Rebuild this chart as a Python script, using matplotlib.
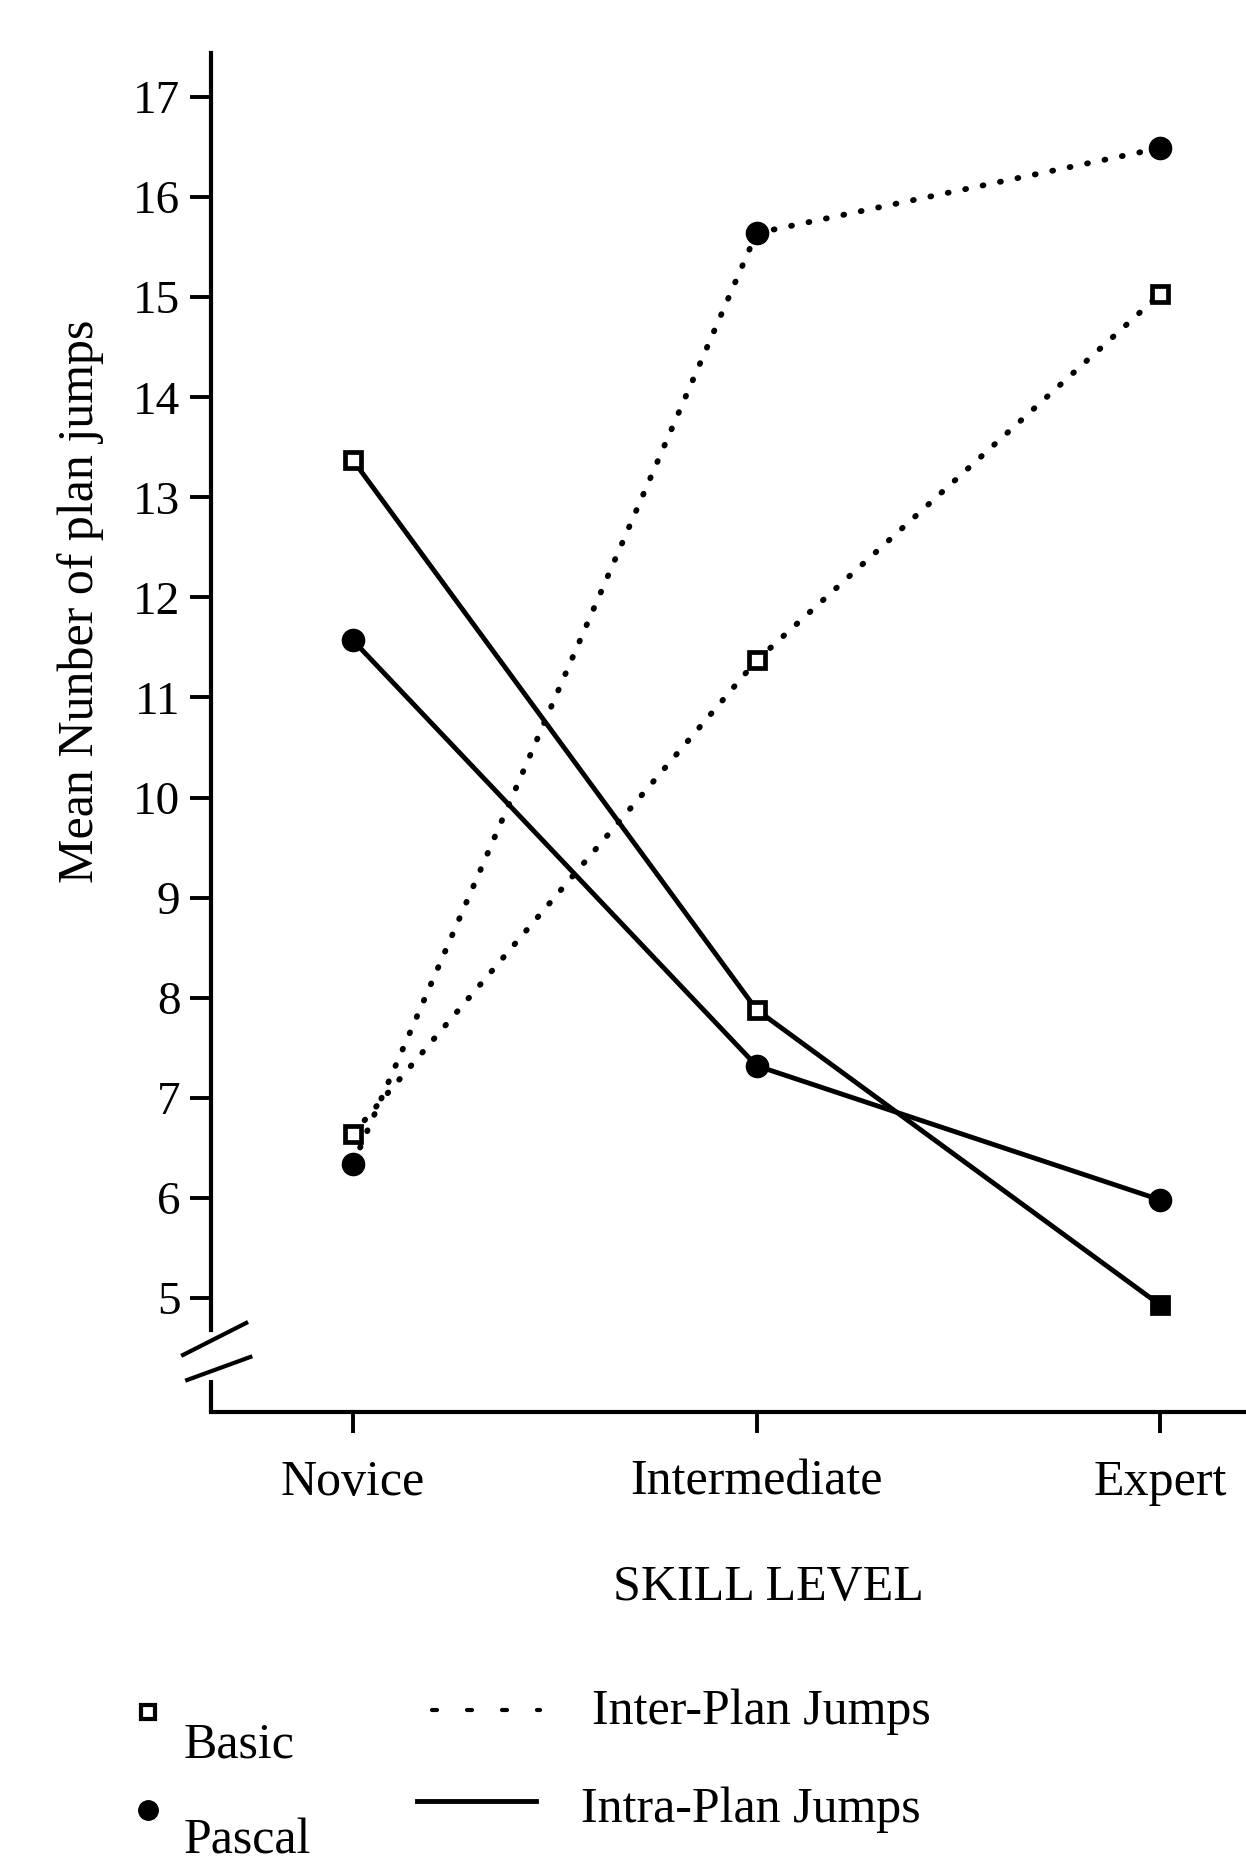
import matplotlib
matplotlib.use("Agg")
import matplotlib.pyplot as plt
from matplotlib.lines import Line2D

skill_levels = ["Novice", "Intermediate", "Expert"]
basic_inter = [6.64, 11.37, 15.03]
pascal_inter = [6.34, 15.64, 16.49]
basic_intra = [13.37, 7.88, 4.93]
pascal_intra = [11.57, 7.32, 5.98]
y_ticks = list(range(5, 18))

plt.rcParams["font.family"] = ["Liberation Serif", "DejaVu Serif"]
plt.rcParams["font.size"] = 36

W, H = 1246, 1862
fig = plt.figure(figsize=(W / 100, H / 100), dpi=100)
ax = fig.add_axes([211 / W, 1 - 1412 / H, 1 - 211 / W, (1412 - 53) / H])

x = list(range(len(skill_levels)))
dot = (0, (0.15, 2.9))
inter_style = dict(color="black", lw=4.2, linestyle=dot, dash_capstyle="round", zorder=3)
intra_style = dict(color="black", lw=3.5, linestyle="-", zorder=3)
square = dict(marker="s", ms=12, mfc="white", mec="black", mew=3.4)
circle = dict(marker="o", ms=16, mfc="black", mec="black", mew=1)

ax.plot(x, basic_inter, **inter_style, **square)
ax.plot(x, pascal_inter, **inter_style, **circle)
ax.plot(x, basic_intra, **intra_style, **square)
ax.plot(x, pascal_intra, **intra_style, **circle)
# the expert square on the intra line is printed solid
ax.plot(x[-1:], basic_intra[-1:], ls="none", marker="s", ms=13, color="black", zorder=4)

ax.set_xlim(-0.352, 2.213)
ax.set_ylim(3.86, 17.44)
ax.set_xticks(x)
ax.set_xticklabels(skill_levels, fontsize=36)
ax.set_yticks(y_ticks)

for side in ("top", "right"):
    ax.spines[side].set_visible(False)
ax.spines["left"].set_linewidth(3)
ax.spines["bottom"].set_linewidth(3)
ax.spines["left"].set_bounds(4.68, 17.44)
ax.tick_params(axis="both", direction="out", length=15, width=2.8)
ax.tick_params(axis="y", pad=7, labelsize=34)
ax.tick_params(axis="x", pad=19)

# axis break on the y axis
yt = ax.get_yaxis_transform()
ax.plot([0, 0], [3.86, 4.18], transform=yt, color="black", lw=3, clip_on=False, solid_capstyle="butt")
ax.plot([-0.027, 0.034], [4.43, 4.75], transform=yt, color="black", lw=3, clip_on=False)
ax.plot([-0.023, 0.038], [4.18, 4.41], transform=yt, color="black", lw=3, clip_on=False)

fig.text(81 / W, 1 - 601 / H, "Mean Nunber of plan jumps", rotation=90,
         ha="center", va="center", fontsize=36)
fig.text(768 / W, 1 - 1600 / H, "SKILL LEVEL", ha="center", va="baseline", fontsize=36)

# legend drawn by hand
fig.add_artist(Line2D([148 / W], [1 - 1712 / H], marker="s", ms=10, mfc="white", mec="black", mew=3))
fig.add_artist(Line2D([148 / W], [1 - 1810 / H], marker="o", ms=14, color="black"))
fig.text(184 / W, 1 - 1757 / H, "Basic", fontsize=36, va="baseline")
fig.text(184 / W, 1 - 1854 / H, "Pascal", fontsize=36, va="baseline")
fig.add_artist(Line2D([432 / W, 540 / W], [1 - 1710 / H] * 2, color="black", lw=3,
                      linestyle=(0, (1.2, 7.2)), dash_capstyle="round"))
fig.add_artist(Line2D([417 / W, 536 / W], [1 - 1801 / H] * 2, color="black", lw=3.5))
fig.text(592 / W, 1 - 1724 / H, "Inter-Plan Jumps", fontsize=36, va="baseline")
fig.text(581 / W, 1 - 1822 / H, "Intra-Plan Jumps", fontsize=36, va="baseline")

fig.savefig("out.png", dpi=100)
